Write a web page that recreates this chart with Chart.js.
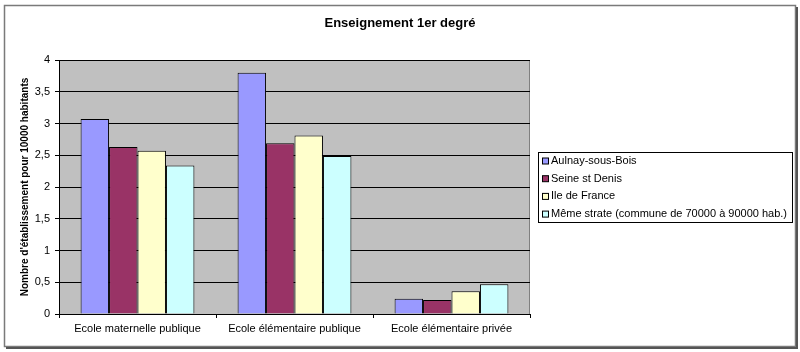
<!DOCTYPE html>
<html lang="fr">
<head>
<meta charset="utf-8">
<title>Enseignement 1er degré</title>
<script src="https://cdn.jsdelivr.net/npm/chart.js@4"></script>
<style>
    html, body { margin: 0; padding: 0; background: #fff; }
    canvas { display: block; }
</style>
</head>
<body>
<canvas id="enseignementChart" width="800" height="352"></canvas>
<script>
    // Données (établissements pour 10000 habitants)
    const chartTitle = 'Enseignement 1er degré';
    const categories = ['Ecole maternelle publique', 'Ecole élémentaire publique', 'Ecole élémentaire privée'];
    const seriesNames = ['Aulnay-sous-Bois', 'Seine st Denis', 'Ile de France', 'Même strate (commune de 70000 à 90000 hab.)'];
    const aulnay = [3.07, 3.80, 0.24];
    const seineStDenis = [2.63, 2.69, 0.22];
    const ileDeFrance = [2.57, 2.81, 0.36];
    const memeStrate = [2.34, 2.49, 0.47];
    const seriesColors = ['#9999FF', '#993366', '#FFFFCC', '#CCFFFF'];

    const FONT = "'Liberation Sans', Arial, sans-serif";

    /**
     * Fond gris de la zone de tracé, cadre extérieur et titre centré sur la page
     */
    const plotBackground = {
        id: 'plotBackground',
        beforeDraw(chart) {
            const ctx = chart.ctx;
            const a = chart.chartArea;
            ctx.save();
            ctx.fillStyle = '#C0C0C0';
            ctx.fillRect(a.left, a.top, a.right - a.left, a.bottom - a.top);
            ctx.strokeStyle = '#808080';
            ctx.lineWidth = 1;
            ctx.beginPath();
            ctx.moveTo(a.left, a.top + 0.5);
            ctx.lineTo(a.right - 0.5, a.top + 0.5);
            ctx.lineTo(a.right - 0.5, a.bottom);
            ctx.stroke();
            ctx.restore();
        },
        afterDraw(chart) {
            const ctx = chart.ctx;
            ctx.save();
            ctx.strokeStyle = '#7a7a7a';
            ctx.lineWidth = 1.5;
            ctx.strokeRect(4.5, 5.5, 791, 341);
            ctx.strokeStyle = '#555';
            ctx.lineWidth = 2;
            ctx.beginPath();
            ctx.moveTo(797, 7);
            ctx.lineTo(797, 348);
            ctx.lineTo(6, 348);
            ctx.stroke();

            // titre
            ctx.fillStyle = '#000';
            ctx.font = 'bold 13px ' + FONT;
            ctx.textAlign = 'center';
            ctx.textBaseline = 'middle';
            ctx.fillText(chartTitle, 400, 23);
            ctx.restore();
        }
    };

    /**
     * Légende encadrée à droite (style Excel)
     */
    const boxedLegend = {
        id: 'boxedLegend',
        afterDraw(chart) {
            const ctx = chart.ctx;
            const box = { x: 538.5, y: 152.5, w: 254, h: 70 };
            ctx.save();
            ctx.fillStyle = '#fff';
            ctx.fillRect(box.x, box.y, box.w, box.h);
            ctx.strokeStyle = '#000';
            ctx.lineWidth = 1;
            ctx.strokeRect(box.x, box.y, box.w, box.h);
            ctx.font = '11px ' + FONT;
            ctx.textBaseline = 'middle';
            chart.data.datasets.forEach((ds, i) => {
                const y = 161 + i * 17.7;
                ctx.fillStyle = ds.backgroundColor;
                ctx.fillRect(542.5, y - 3, 6, 6);
                ctx.strokeStyle = '#000';
                ctx.strokeRect(542.5, y - 3, 6, 6);
                ctx.fillStyle = '#000';
                ctx.fillText(ds.label, 551, y);
            });
            ctx.restore();
        }
    };

    const seriesData = [aulnay, seineStDenis, ileDeFrance, memeStrate];

    new Chart(document.getElementById('enseignementChart'), {
        type: 'bar',
        data: {
            labels: categories,
            datasets: seriesNames.map((name, i) => ({
                label: name,
                data: seriesData[i],
                backgroundColor: seriesColors[i],
                borderColor: '#000',
                borderWidth: 1,
                barPercentage: 1,
                categoryPercentage: 0.725
            }))
        },
        options: {
            responsive: false,
            animation: false,
            layout: {
                padding: { left: 9, right: 270, top: 60, bottom: 0 }
            },
            plugins: {
                legend: { display: false },
                tooltip: { enabled: false },
                title: { display: false }
            },
            scales: {
                x: {
                    afterFit: function(scale) { scale.height = 38; },
                    grid: {
                        offset: true,
                        drawOnChartArea: false,
                        color: '#000',
                        tickLength: 4
                    },
                    border: { color: '#000' },
                    ticks: {
                        color: '#000',
                        padding: 4,
                        font: { family: FONT, size: 11 },
                        maxRotation: 0
                    }
                },
                y: {
                    min: 0,
                    max: 4,
                    afterFit: function(scale) { scale.width = 50; },
                    grid: {
                        color: '#000',
                        tickLength: 4
                    },
                    border: { color: '#000' },
                    ticks: {
                        stepSize: 0.5,
                        color: '#000',
                        padding: 5,
                        font: { family: FONT, size: 11 },
                        callback: function(value) {
                            return String(value).replace('.', ',');
                        }
                    },
                    title: {
                        display: true,
                        text: "Nombre d'établissement pour 10000 habitants",
                        color: '#000',
                        font: { family: FONT, size: 10, weight: 'bold' },
                        padding: { top: 10, bottom: 0 }
                    }
                }
            }
        },
        plugins: [plotBackground, boxedLegend]
    });
</script>
</body>
</html>
